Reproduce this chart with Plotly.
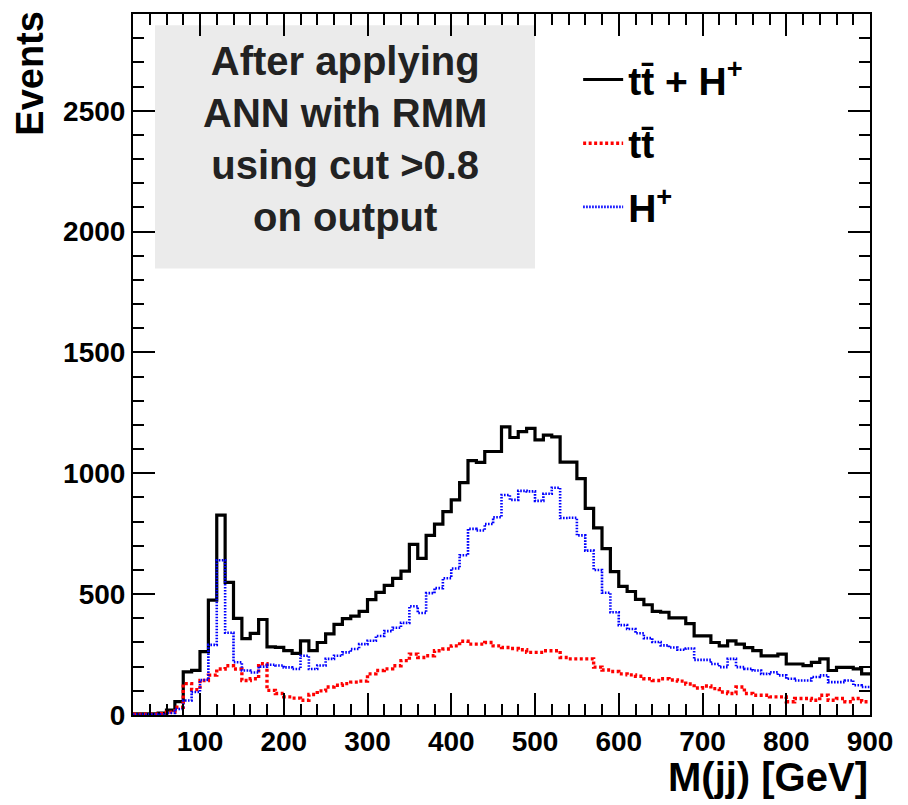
import plotly.graph_objects as go

# Bin left edges (GeV), 10 GeV wide bins from 20 to 900
bin_lo = list(range(20, 900, 10))
bin_hi_last = 900

tt_plus_H = [5, 5, 5, 8, 20, 55, 178, 185, 262, 475,
             827, 549, 400, 316, 338, 395, 282, 280, 266, 255,
             307, 266, 300, 336, 375, 399, 409, 429, 477, 507,
             536, 565, 595, 706, 648, 743, 790, 841, 890, 961,
             1052, 1045, 1090, 1090, 1192, 1148, 1172, 1186, 1138, 1158,
             1151, 1046, 1046, 978, 855, 774, 688, 593, 532, 511,
             478, 456, 429, 425, 402, 402, 378, 327, 327, 300,
             286, 307, 293, 279, 266, 245, 245, 252, 211, 211,
             204, 218, 232, 184, 197, 197, 191, 170]

tt = [3, 3, 3, 5, 12, 32, 130, 105, 143, 165,
      190, 204, 190, 143, 150, 212, 102, 89, 75, 70,
      61, 85, 100, 116, 123, 130, 136, 140, 170, 184,
      191, 204, 225, 252, 238, 245, 266, 273, 286, 305,
      293, 293, 300, 286, 279, 275, 270, 259, 259, 266,
      266, 238, 232, 232, 232, 198, 186, 180, 170, 166,
      160, 150, 143, 150, 145, 140, 128, 112, 120, 109,
      95, 89, 116, 89, 82, 82, 75, 75, 55, 68,
      68, 61, 82, 61, 68, 55, 68, 55]

H_plus = [2, 2, 2, 3, 8, 25, 60, 95, 145, 290,
          640, 340, 218, 184, 176, 200, 208, 205, 197, 190,
          245, 190, 205, 232, 245, 259, 273, 293, 307, 327,
          347, 361, 381, 450, 422, 504, 525, 566, 606, 661,
          770, 763, 790, 818, 910, 890, 927, 925, 886, 915,
          940, 815, 816, 743, 680, 600, 506, 425, 372, 356,
          338, 318, 302, 288, 279, 270, 275, 228, 228, 211,
          198, 232, 198, 191, 184, 170, 177, 164, 150, 143,
          143, 157, 164, 136, 136, 143, 123, 116]

x_ticks = [100, 200, 300, 400, 500, 600, 700, 800, 900]
y_ticks = [0, 500, 1000, 1500, 2000, 2500]

box_lines = ["After applying", "ANN with RMM", "using cut >0.8", "on output"]

FONT = "Liberation Sans"


def steps(vals):
    xs = bin_lo + [bin_hi_last]
    ys = vals + [vals[-1]]
    return xs, ys


fig = go.Figure()

series = [
    ("tt\u0304 + H<sup>+</sup>", tt_plus_H, dict(color="black", width=3.2, dash="solid"), "g1"),
    ("tt\u0304", tt, dict(color="#ff0000", width=3.4, dash="3px,2.5px"), "g2"),
    ("H<sup>+</sup>", H_plus, dict(color="#0000ff", width=2.6, dash="1.6px,1.4px"), "g3"),
]
for name, vals, line, grp in series:
    xs, ys = steps(vals)
    fig.add_trace(go.Scatter(x=xs, y=ys, mode="lines", line_shape="hv",
                             line=line, name=name, legendgroup=grp))

fig.add_shape(type="rect", xref="paper", yref="paper",
              x0=0.0299, x1=0.5455, y0=0.637, y1=0.984,
              fillcolor="#ebebeb", line=dict(width=0), layer="below")

fig.add_annotation(xref="paper", yref="paper", x=0.2877, y=0.8215,
                   text="<br>".join(box_lines), showarrow=False,
                   align="center", xanchor="center", yanchor="middle",
                   font=dict(family=FONT, size=40, color="#222222", weight="bold"))

fig.add_annotation(xref="paper", yref="paper", x=-0.14, y=1.008,
                   text="Events", textangle=-90, showarrow=False,
                   xanchor="center", yanchor="top",
                   font=dict(family=FONT, size=38, color="black", weight="bold"))

fig.add_annotation(xref="paper", yref="paper", x=1.0, y=-0.088,
                   text="M(jj) [GeV]", showarrow=False,
                   xanchor="right", yanchor="middle",
                   font=dict(family=FONT, size=40, color="black", weight="bold"))

axis_common = dict(
    showline=True, linewidth=2, linecolor="black", mirror="ticks",
    ticks="inside", tickwidth=2, ticklen=22, tickcolor="black",
    showgrid=False, zeroline=False,
    tickfont=dict(family=FONT, size=28, color="black", weight="bold"),
)

fig.update_xaxes(range=[20, 900], tickvals=x_ticks,
                 minor=dict(ticks="inside", dtick=20, tick0=0, ticklen=11,
                            tickwidth=1.5, tickcolor="black", showgrid=False),
                 **axis_common)
fig.update_yaxes(range=[0, 2900], tickvals=y_ticks,
                 minor=dict(ticks="inside", dtick=100, tick0=0, ticklen=11,
                            tickwidth=1.5, tickcolor="black", showgrid=False),
                 **axis_common)

fig.update_layout(
    width=900, height=797, autosize=False,
    margin=dict(l=125, r=38, t=4, b=90),
    plot_bgcolor="white", paper_bgcolor="white",
    showlegend=True,
    legend=dict(x=0.604, y=0.952, xanchor="left", yanchor="top",
                bgcolor="rgba(0,0,0,0)", borderwidth=0,
                font=dict(family=FONT, size=39, color="black", weight="bold"),
                tracegroupgap=10, itemwidth=40, traceorder="grouped"),
)

fig.write_html("out.html")
